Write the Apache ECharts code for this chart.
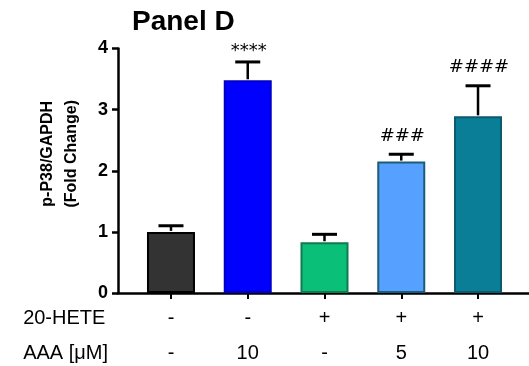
<!DOCTYPE html>
<html>
<head>
<meta charset="utf-8">
<script src="https://cdn.jsdelivr.net/npm/echarts@6/dist/echarts.min.js"></script>
<style>html,body{margin:0;padding:0;background:#fff;}#c{width:529px;height:366px;}</style>
</head>
<body>
<div id="c"></div>
<script>
const treatment20HETE = ['-', '-', '+', '+', '+'];
const aaaDose = ['-', '10', '-', '5', '10'];
const meanValues = [1.00, 3.48, 0.83, 2.15, 2.89];
const errValues = [0.10, 0.30, 0.13, 0.12, 0.50];
const annotations = ['', '****', '', '###', '####'];
const fillColors = ['#333333', '#0000ff', '#0abf78', '#56a0ff', '#0a7e96'];
const borderColors = ['#000000', '#0000c8', '#107a4e', '#1b5c78', '#0b5a6e'];
const yMin = 0, yMax = 4, yStep = 1;

const categories = treatment20HETE.map((t, i) => t + '\n' + aaaDose[i]);

const chart = echarts.init(document.getElementById('c'), null, {renderer: 'canvas'});
const gridTop = 48.5, gridBottom = 73;

chart.setOption({
  animation: false,
  backgroundColor: '#ffffff',
  title: [
    {text: 'Panel D', left: 132, top: 8, padding: 0,
     textStyle: {fontFamily: 'Liberation Sans, Arial', fontWeight: 'bold', fontSize: 28, color: '#000'}},
    {text: '20-HETE\nAAA [\u03bcM]', right: 421, top: 301, padding: 0,
     textStyle: {fontFamily: 'Liberation Sans, Arial', fontWeight: 'normal', fontSize: 20, color: '#000', lineHeight: 35, align: 'right'}}
  ],
  grid: [
    {left: 132.6, right: 12.6, top: gridTop, bottom: gridBottom, containLabel: false, outerBoundsMode: 'none'},
    {left: 118, right: 0, top: gridTop, bottom: gridBottom, containLabel: false, outerBoundsMode: 'none'}
  ],
  xAxis: [
    {type: 'category', gridIndex: 0, data: categories,
     axisLine: {show: false},
     axisTick: {show: true, alignWithLabel: true, length: 6, lineStyle: {color: '#000', width: 2}},
     axisLabel: {margin: 8, fontFamily: 'Liberation Sans, Arial', fontSize: 20, color: '#000', lineHeight: 35},
     splitLine: {show: false}},
    {type: 'value', gridIndex: 1, min: 0, max: 1,
     axisLine: {show: true, onZero: false, lineStyle: {color: '#000', width: 2.5}},
     axisTick: {show: false}, axisLabel: {show: false}, splitLine: {show: false}}
  ],
  yAxis: [
    {type: 'value', gridIndex: 0, min: yMin, max: yMax, interval: yStep, show: false},
    {type: 'value', gridIndex: 1, min: yMin, max: yMax, interval: yStep,
     name: 'p-P38/GAPDH\n(Fold Change)', nameLocation: 'middle', nameGap: 34, nameRotate: 90,
     nameTextStyle: {fontFamily: 'Liberation Sans, Arial', fontWeight: 'bold', fontSize: 16, color: '#000', lineHeight: 24, padding: [0, 0, 0, 34]},
     axisLine: {show: true, lineStyle: {color: '#000', width: 2.5}},
     axisTick: {show: true, length: 6, lineStyle: {color: '#000', width: 2.5}},
     axisLabel: {margin: 10, fontFamily: 'Liberation Sans, Arial', fontWeight: 'bold', fontSize: 18, color: '#000'},
     splitLine: {show: false}}
  ],
  series: [
    {type: 'bar', xAxisIndex: 0, yAxisIndex: 0, barWidth: 48,
     data: meanValues.map((v, i) => ({value: v, itemStyle: {color: fillColors[i], borderColor: borderColors[i], borderWidth: 2}})),
     z: 3},
    {type: 'custom', xAxisIndex: 0, yAxisIndex: 0, z: 4,
     data: meanValues.map((v, i) => [i, v, v + errValues[i]]),
     renderItem: function (params, api) {
       const x = api.value(0);
       const top = api.coord([x, api.value(1)]);
       const hi = api.coord([x, api.value(2)]);
       const ann = annotations[params.dataIndex];
       const children = [
         {type: 'line', shape: {x1: top[0], y1: top[1] - 1, x2: hi[0], y2: hi[1]}, style: {stroke: '#000', lineWidth: 2.5}},
         {type: 'line', shape: {x1: hi[0] - 12.5, y1: hi[1], x2: hi[0] + 12.5, y2: hi[1]}, style: {stroke: '#000', lineWidth: 3}}
       ];
       if (ann) {
         const off = ann.charAt(0) === '*' ? 11 : 18;
         children.push({type: 'text', x: hi[0] + 1, y: hi[1] - off,
           style: {text: ann, fontFamily: 'DejaVu Sans', fontSize: 18, fill: '#000', align: 'center', verticalAlign: 'middle'}});
       }
       return {type: 'group', children: children};
     }}
  ]
});
</script>
</body>
</html>
